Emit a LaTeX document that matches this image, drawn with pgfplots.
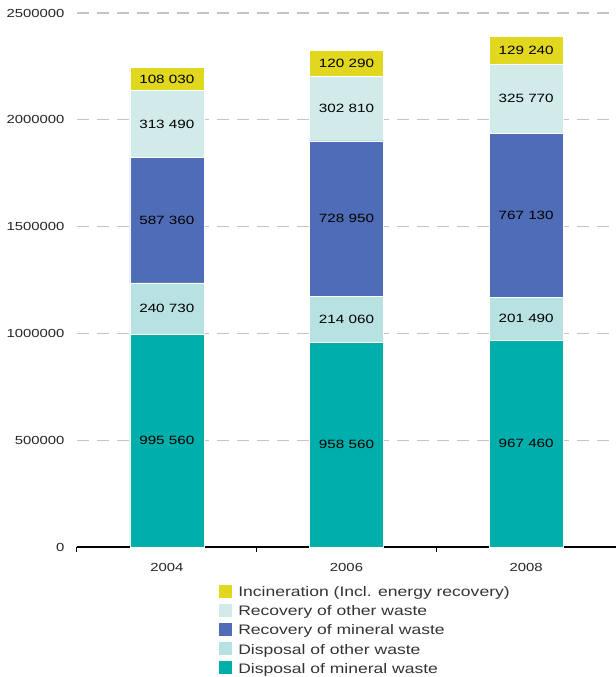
\documentclass[border=0pt]{standalone}
\usepackage{pgfplots}
\pgfplotsset{compat=1.18}
\usepackage{pgfplotstable}
\usepackage{fontspec}
\setmainfont{Liberation Sans}[FakeStretch=1.27]

\definecolor{incin}{HTML}{E1D71E}
\definecolor{recoth}{HTML}{D0EBEA}
\definecolor{recmin}{HTML}{4F6DB6}
\definecolor{dispoth}{HTML}{B7E2E1}
\definecolor{dispmin}{HTML}{00AEAB}
\definecolor{gridgray}{HTML}{C4C4C4}
\definecolor{txt}{HTML}{262626}
\definecolor{legtxt}{HTML}{333333}

% waste treated, tonnes: disposal mineral/other, recovery mineral/other, incineration
\pgfplotstableread{
x   dm     do     rm     ro     inc
0.5 995560 240730 587360 313490 108030
1.5 958560 214060 728950 302810 120290
2.5 967460 201490 767130 325770 129240
}\waste

\tikzset{tickfont/.style={font=\fontsize{11.7bp}{13bp}\selectfont, text=txt}}
\pgfplotsset{
  frame/.style={
    scale only axis, width=539bp, height=534bp,
    xmin=0, xmax=3, ymin=0, ymax=2500000,
  },
  seg/.style={fill=#1, draw=white, line width=0.4bp,
    legend image code/.code={\path[fill=#1] (0bp,-5.5bp) rectangle (14bp,8.5bp);}},
}

\begin{document}
\begin{tikzpicture}
\path[use as bounding box] (-77bp,-130bp) rectangle (539bp,547bp);
\begin{axis}[
  frame,
  ybar stacked, bar width=74bp,
  axis x line*=bottom, axis y line*=left,
  axis line style={-},
  y axis line style={draw=none},
  x axis line style={black, line width=1.2bp},
  xtick={0,1,2,3}, xticklabels={},
  xtick style={black, line width=1bp},
  tick align=outside, major tick length=5bp,
  extra x ticks={0.5,1.5,2.5},
  extra x tick labels={2004,2006,2008},
  extra x tick style={major tick length=0pt, tick label style={yshift=-13bp}},
  ytick={0,500000,1000000,1500000,2000000,2500000},
  ytick style={draw=none},
  scaled y ticks=false,
  yticklabel style={/pgf/number format/fixed, /pgf/number format/precision=0,
    /pgf/number format/1000 sep={}, /pgf/number format/assume math mode=true,
    tickfont, xshift=-4bp},
  xticklabel style={tickfont},
  ymajorgrids=true,
  major grid style={gridgray, line width=1.4bp, dash pattern=on 12bp off 8bp},
  legend style={at={(0.261,-0.068)}, anchor=north west, draw=none, fill=none,
    font=\fontsize{13.8bp}{16bp}\selectfont, text=legtxt, row sep=3.8bp,
    inner sep=0pt, nodes={inner sep=1bp},
    /tikz/every odd column/.append style={column sep=5bp}},
  legend cell align=left,
  reverse legend,
]
\addplot[seg=dispmin] table[x=x, y=dm] {\waste};
\addlegendentry{Disposal of mineral waste}
\addplot[seg=dispoth] table[x=x, y=do] {\waste};
\addlegendentry{Disposal of other waste}
\addplot[seg=recmin] table[x=x, y=rm] {\waste};
\addlegendentry{Recovery of mineral waste}
\addplot[seg=recoth] table[x=x, y=ro] {\waste};
\addlegendentry{Recovery of other waste}
\addplot[seg=incin] table[x=x, y=inc] {\waste};
\addlegendentry{Incineration (Incl. energy recovery)}
\end{axis}

% value labels in the middle of each segment
\begin{axis}[
  frame, hide axis,
  point meta=explicit,
  nodes near coords={\pgfmathprintnumber[fixed, precision=0, 1000 sep={\ }, assume math mode=true]{\pgfplotspointmeta}},
  every node near coord/.append style={anchor=center, font=\fontsize{12bp}{14bp}\selectfont, text=black},
]
\addplot[draw=none, mark=none] table[x=x, y expr=\thisrow{dm}/2, meta=dm] {\waste};
\addplot[draw=none, mark=none] table[x=x, y expr=\thisrow{dm}+\thisrow{do}/2, meta=do] {\waste};
\addplot[draw=none, mark=none] table[x=x, y expr=\thisrow{dm}+\thisrow{do}+\thisrow{rm}/2, meta=rm] {\waste};
\addplot[draw=none, mark=none] table[x=x, y expr=\thisrow{dm}+\thisrow{do}+\thisrow{rm}+\thisrow{ro}/2, meta=ro] {\waste};
\addplot[draw=none, mark=none] table[x=x, y expr=\thisrow{dm}+\thisrow{do}+\thisrow{rm}+\thisrow{ro}+\thisrow{inc}/2, meta=inc] {\waste};
\end{axis}
\end{tikzpicture}
\end{document}
